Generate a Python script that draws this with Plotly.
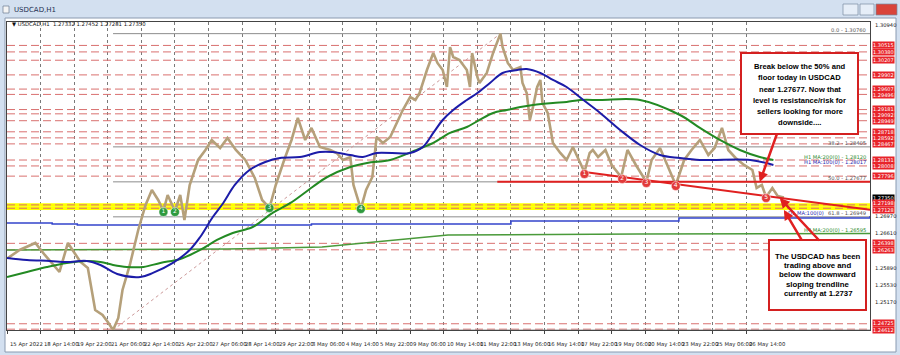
import plotly.graph_objects as go

# ---------------- data ----------------
# hourly bar index (0 = 15 Apr 2022 00:00, weekends skipped) and price
price_idx = [1,12,27,36,50,58,70,77,84,91,
             96,101,106,110,117,125,132,138,144,149,
             153,160,165,169,174,182,189,195,203,210,
             218,227,236,243,250,256,264,271,277,284,
             290,298,308,314,320,327,330,337,342,348,
             352,358,365,371,377,384,389,393,400,406,
             410,415,419,422,425,431,438,441,443,448,
             450,457,463,470,472,477,482,489,491,495,
             498,501,505,508,510,515,520,527,533,539,
             546,550,555,558,563,570,576,585,591,599,
             609,614,622,630,637,645,652,660,668,674,
             681,687,694,702,710,714,719,723,729,734,
             740]
price_val = [1.26094,1.26260,1.26406,1.26156,1.25802,1.26406,1.26010,1.25886,1.25012,1.24908,
             1.24762,1.24594,1.24846,1.25428,1.25948,1.26676,1.27196,1.27508,1.27300,1.27071,
             1.27404,1.27071,1.27404,1.26884,1.27612,1.28132,1.28340,1.28548,1.28382,1.28590,
             1.28340,1.28132,1.27758,1.27300,1.27134,1.27612,1.28132,1.28548,1.29006,1.28548,
             1.28798,1.28402,1.28340,1.28278,1.28132,1.28194,1.27612,1.27113,1.27508,1.27778,
             1.28610,1.28486,1.28610,1.28902,1.29172,1.29442,1.29380,1.29526,1.30004,1.30358,
             1.30150,1.30004,1.29650,1.30482,1.30274,1.30212,1.30004,1.29650,1.30358,1.29858,
             1.29734,1.29942,1.30358,1.30760,1.30482,1.30150,1.30004,1.30066,1.29734,1.29526,
             1.28964,1.29234,1.29650,1.29796,1.29318,1.29110,1.28486,1.28278,1.28132,1.28402,
             1.28070,1.27882,1.28278,1.28340,1.28194,1.28340,1.28028,1.27778,1.28340,1.28028,
             1.27674,1.28132,1.28382,1.27966,1.27612,1.28132,1.28340,1.28548,1.28236,1.28382,
             1.28798,1.28340,1.28174,1.28028,1.27924,1.27550,1.27612,1.27362,1.27550,1.27383,
             1.27350]

ma100_idx = [0,19,41,57,76,89,105,127,139,158,174,184,196,206,217,231,246,260,279,298,
             310,327,339,352,384,396,406,415,425,438,448,460,472,486,495,508,520,533,549,565,
             584,603,622,641,660,672,708,730]
ma100_val = [1.26094,1.26052,1.26031,1.26010,1.26031,1.25948,1.25761,1.25698,1.25782,1.25990,
             1.26260,1.26530,1.26946,1.27238,1.27612,1.27924,1.28090,1.28174,1.28194,1.28298,
             1.28298,1.28236,1.28194,1.28278,1.28278,1.28402,1.28694,1.28964,1.29172,1.29380,
             1.29526,1.29734,1.29942,1.30004,1.30025,1.29942,1.29796,1.29650,1.29380,1.29110,
             1.28756,1.28444,1.28236,1.28174,1.28132,1.28132,1.28132,1.28028]

ma200_idx = [0,19,38,57,76,89,101,114,130,146,165,184,200,215,234,253,270,291,305,327,
             343,365,390,406,422,438,450,463,476,489,501,520,533,546,565,603,641,660,679,698,
             717,730]
ma200_val = [1.25698,1.25802,1.25906,1.25990,1.26031,1.26010,1.25948,1.25906,1.25906,1.25990,
             1.26073,1.26260,1.26468,1.26614,1.26738,1.27030,1.27238,1.27570,1.27778,1.27986,
             1.28070,1.28132,1.28340,1.28486,1.28694,1.28818,1.28964,1.29110,1.29172,1.29234,
             1.29276,1.29318,1.29338,1.29380,1.29380,1.29380,1.29068,1.28798,1.28548,1.28340,
             1.28194,1.28132]

d1_blue_idx = [0,41,43,67,290,480,640,822]
d1_blue_val = [1.26822,1.26822,1.26801,1.26780,1.26801,1.26864,1.26926,1.26968]
d1_green_idx = [0,210,300,360,420,600,822]
d1_green_val = [1.26260,1.26280,1.26320,1.26450,1.26570,1.26590,1.26600]

level_prices = [1.30515,1.30380,1.30207,1.29902,1.29607,1.29496,1.29181,1.29092,1.28949,
                1.28718,1.28592,1.28467,1.28131,1.28008,1.27796,1.27198,1.27128,
                1.26398,1.26263,1.24725,1.24612]
yellow_levels = [1.27198, 1.27128]

fib_names = ["0.0", "38.2", "50.0", "61.8", "100.0"]
fib_prices = [1.30760, 1.28405, 1.27677, 1.26949, 1.24594]
fib_start = 101
fib_diag_idx = [101, 470]
fib_diag_val = [1.24594, 1.30760]

axis_prices = [1.30940, 1.26970, 1.26610, 1.25890, 1.25530, 1.25170, 1.24450]
current_price = 1.27350

date_ticks = [0,32,64,96,128,160,192,224,256,288,320,352,384,416,448,480,512,544,576,608,640,672,704]
date_labels = ["15 Apr 2022","18 Apr 14:00","19 Apr 22:00","21 Apr 06:00","22 Apr 14:00",
               "25 Apr 22:00","27 Apr 06:00","28 Apr 14:00","29 Apr 22:00","3 May 06:00",
               "4 May 14:00","5 May 22:00","9 May 06:00","10 May 14:00","11 May 22:00",
               "13 May 06:00","16 May 14:00","17 May 22:00","19 May 06:00","20 May 14:00",
               "23 May 22:00","25 May 06:00","26 May 14:00"]

green_mark_idx = [149, 160, 250, 337]
green_mark_val = [1.27050, 1.27050, 1.27134, 1.27113]
green_mark_txt = ["1", "2", "3", "4"]
red_mark_idx = [550, 586, 609, 637, 723]
red_mark_val = [1.27841, 1.27737, 1.27654, 1.27591, 1.27342]
red_mark_txt = ["1", "2", "3", "4", "5"]

trend_idx = [550, 822]
trend_val = [1.27882, 1.27098]
half_line_idx = [467, 822]
half_line_val = [1.27677, 1.27677]

ma_labels = [("H1 MA:200(0) - 1.28120", 1.28120, "#2e8b2e", 868),
             ("H1 MA:100(0) - 1.28017", 1.28017, "#2a2ab0", 868),
             ("H4 MA:200(0) - 1.26595", 1.26595, "#2e8b2e", 868),
             ("D1 MA:100(0)", 1.26949, "#2a2ab0", 826)]

box1_lines = ["Break below the 50% and", "floor today in USDCAD", "near 1.27677. Now that",
              "level is resistance/risk for", "sellers looking for more", "downside...."]
box2_lines = ["The USDCAD has been", "trading above and", "below the downward",
              "sloping trendline", "currently at 1.2737"]

# ---------------- layout geometry ----------------
W, H = 900, 355
ML, MR, MT, MB = 7, 30, 22, 25
PW, PH = W - ML - MR, H - MT - MB
X_MAX = 822
Y_TOP, Y_BOT = 1.310024, 1.24595
PX_PER_PRICE = PH / (Y_TOP - Y_BOT)
FONT = "DejaVu Sans"

def px(x):
    return (x - ML) / PW

def py(y):
    return (H - MB - y) / PH

fig = go.Figure()

RED_DASH = "#d9706f"
for lv in yellow_levels:
    fig.add_trace(go.Scatter(x=[0, X_MAX], y=[lv, lv], mode="lines",
                             line=dict(color="#ffff00", width=3.5),
                             hoverinfo="skip", showlegend=False))
for lv in level_prices:
    fig.add_trace(go.Scatter(x=[0, X_MAX], y=[lv, lv], mode="lines",
                             line=dict(color=RED_DASH, width=1, dash="8,4"),
                             hoverinfo="skip", showlegend=False))

# fib lines
for fp in fib_prices:
    fig.add_trace(go.Scatter(x=[fib_start, X_MAX], y=[fp, fp], mode="lines",
                             line=dict(color="#8c8c8c", width=1),
                             hoverinfo="skip", showlegend=False))
fig.add_trace(go.Scatter(x=fib_diag_idx, y=fib_diag_val, mode="lines",
                         line=dict(color="#c99", width=1, dash="dot"),
                         hoverinfo="skip", showlegend=False))

# daily / H4 MAs
fig.add_trace(go.Scatter(x=d1_blue_idx, y=d1_blue_val, mode="lines", line_shape="hv",
                         line=dict(color="#3344cc", width=1.5), hoverinfo="skip", showlegend=False))
fig.add_trace(go.Scatter(x=d1_green_idx, y=d1_green_val, mode="lines",
                         line=dict(color="#4a9a3a", width=1.5), hoverinfo="skip", showlegend=False))

# price
fig.add_trace(go.Scatter(x=price_idx, y=price_val, mode="lines",
                         line=dict(color="#b5a07a", width=2.6), hoverinfo="skip", showlegend=False))

# hourly MAs
fig.add_trace(go.Scatter(x=ma200_idx, y=ma200_val, mode="lines", line_shape="spline",
                         line=dict(color="#238a23", width=2), hoverinfo="skip", showlegend=False))
fig.add_trace(go.Scatter(x=ma100_idx, y=ma100_val, mode="lines", line_shape="spline",
                         line=dict(color="#1c1ca8", width=2), hoverinfo="skip", showlegend=False))

# red 50% line and trendline
fig.add_trace(go.Scatter(x=half_line_idx, y=half_line_val, mode="lines",
                         line=dict(color="#e02020", width=2), hoverinfo="skip", showlegend=False))
fig.add_trace(go.Scatter(x=trend_idx, y=trend_val, mode="lines",
                         line=dict(color="#e02020", width=2), hoverinfo="skip", showlegend=False))

# numbered markers
fig.add_trace(go.Scatter(x=green_mark_idx, y=green_mark_val, mode="markers+text",
                         text=green_mark_txt, textposition="middle center",
                         textfont=dict(color="white", size=6, family=FONT),
                         marker=dict(color="#2e9a3e", size=9, line=dict(color="white", width=0.5)),
                         hoverinfo="skip", showlegend=False))
fig.add_trace(go.Scatter(x=red_mark_idx, y=red_mark_val, mode="markers+text",
                         text=red_mark_txt, textposition="middle center",
                         textfont=dict(color="white", size=6, family=FONT),
                         marker=dict(color="#e23a3a", size=9, line=dict(color="white", width=0.5)),
                         hoverinfo="skip", showlegend=False))

ann = []
shapes = []

# window chrome
shapes.append(dict(type="rect", xref="paper", yref="paper", x0=px(0), x1=px(900), y0=py(18), y1=py(0),
                   fillcolor="#d3e0f0", line=dict(width=0), layer="below"))
shapes.append(dict(type="rect", xref="paper", yref="paper", x0=px(5), x1=px(896), y0=py(352), y1=py(18),
                   fillcolor="white", line=dict(color="#8a9ab0", width=1), layer="below"))
shapes.append(dict(type="rect", xref="paper", yref="paper", x0=px(3), x1=px(9), y0=py(13), y1=py(6),
                   fillcolor="#f4f4f4", line=dict(color="#6a7a90", width=0.7)))
for (a, b, c) in [(843, 858, "#e6eef8"), (860, 874, "#e6eef8"), (876, 897, "#d9443a")]:
    shapes.append(dict(type="rect", xref="paper", yref="paper", x0=px(a), x1=px(b), y0=py(15), y1=py(4),
                       fillcolor=c, line=dict(color="#7a8aa0", width=0.7)))
ann.append(dict(xref="paper", yref="paper", x=px(12), y=py(9.5), text="USDCAD,H1", showarrow=False,
                xanchor="left", yanchor="middle", font=dict(size=7, color="#1e3050", family=FONT)))
ann.append(dict(xref="paper", yref="paper", x=px(10), y=py(23.5),
                text="▼ USDCAD,H1  1.27332 1.27452 1.27281 1.27350", showarrow=False,
                xanchor="left", yanchor="middle", font=dict(size=5.3, color="#111", family=FONT)))

# date labels
for t, lab in zip(date_ticks, date_labels):
    ann.append(dict(xref="x", yref="paper", x=t, y=py(344), text=lab, showarrow=False,
                    xanchor="left", yanchor="middle", xshift=1,
                    font=dict(size=5.3, color="#222", family=FONT)))

# right axis plain labels
for p in axis_prices:
    ann.append(dict(xref="paper", yref="y", x=px(873), y=p, text=f"{p:.5f}", showarrow=False,
                    xanchor="left", yanchor="middle",
                    font=dict(size=5.2, color="#222", family=FONT)))

# right axis boxed labels (red levels + current price); crowded clusters are spread evenly
boxed = [(lv, "#e8242a") for lv in level_prices] + [(current_price, "#000")]
boxed.sort(key=lambda t: -t[0])
MIN_GAP = 6.2
clusters = []
for item in boxed:
    pos = (Y_TOP - item[0]) * PX_PER_PRICE
    if clusters and pos - clusters[-1][-1][1] < MIN_GAP:
        clusters[-1].append((item, pos))
    else:
        clusters.append([(item, pos)])
for cl in clusters:
    center = sum(p for _, p in cl) / len(cl)
    n = len(cl)
    for k, ((val, bg), pos) in enumerate(cl):
        target = center + (k - (n - 1) / 2) * MIN_GAP
        ann.append(dict(xref="paper", yref="y", x=px(872), y=val, text=f"{val:.5f}", showarrow=False,
                        xanchor="left", yanchor="middle", bgcolor=bg, borderpad=0,
                        yshift=-(target - pos),
                        font=dict(size=5.0, color="white", family=FONT)))

# fib labels
for n, fp in zip(fib_names, fib_prices):
    ann.append(dict(xref="paper", yref="y", x=px(868), y=fp, text=f"{n} - {fp:.5f}", showarrow=False,
                    xanchor="right", yanchor="bottom", yshift=-1,
                    font=dict(size=5.2, color="#555", family=FONT)))
for txt, val, col, xr in ma_labels:
    ann.append(dict(xref="paper", yref="y", x=px(xr), y=val, text=txt, showarrow=False,
                    xanchor="right", yanchor="bottom", yshift=-1,
                    font=dict(size=5.2, color=col, family=FONT)))

# text boxes
shapes.append(dict(type="rect", xref="paper", yref="paper", x0=px(741), x1=px(858), y0=py(134), y1=py(53),
                   fillcolor="white", line=dict(color="#d42020", width=2)))
shapes.append(dict(type="rect", xref="paper", yref="paper", x0=px(769), x1=px(866), y0=py(310), y1=py(240),
                   fillcolor="white", line=dict(color="#d42020", width=2)))
for i, line in enumerate(box1_lines):
    ann.append(dict(xref="paper", yref="paper", x=px(799.5), y=py(67 + i * 11), text=f"<b>{line}</b>",
                    showarrow=False, xanchor="center", yanchor="middle",
                    font=dict(size=7.6, color="#000", family="Liberation Sans")))
for i, line in enumerate(box2_lines):
    ann.append(dict(xref="paper", yref="paper", x=px(817.5), y=py(256 + i * 9.4), text=f"<b>{line}</b>",
                    showarrow=False, xanchor="center", yanchor="middle",
                    font=dict(size=7.8, color="#000", family="Liberation Sans")))

# arrows
arrows = [(717, 1.27674, 734, 1.28714), (736, 1.27342, 775, 1.26426), (740, 1.27092, 758, 1.26426)]
for hx, hy, tx, ty in arrows:
    ann.append(dict(xref="x", yref="y", axref="x", ayref="y", x=hx, y=hy, ax=tx, ay=ty,
                    showarrow=True, arrowhead=2, arrowsize=0.8, arrowwidth=2.5, arrowcolor="#e02020",
                    text=""))

fig.update_layout(
    width=W, height=H, margin=dict(l=ML, r=MR, t=MT, b=MB),
    paper_bgcolor="#d3e0f0", plot_bgcolor="white",
    shapes=shapes, annotations=ann, showlegend=False,
    xaxis=dict(range=[0, X_MAX], tickvals=date_ticks, showticklabels=False, ticks="outside",
               ticklen=3, tickcolor="#444", showgrid=True, gridcolor="#7a7a7a", griddash="dot",
               gridwidth=1, zeroline=False, showline=True, linecolor="#444", mirror=True, fixedrange=True),
    yaxis=dict(range=[Y_BOT, Y_TOP], showticklabels=False, showgrid=False, zeroline=False,
               showline=True, linecolor="#444", mirror=True, side="right", fixedrange=True),
)

fig.write_html("out.html")
